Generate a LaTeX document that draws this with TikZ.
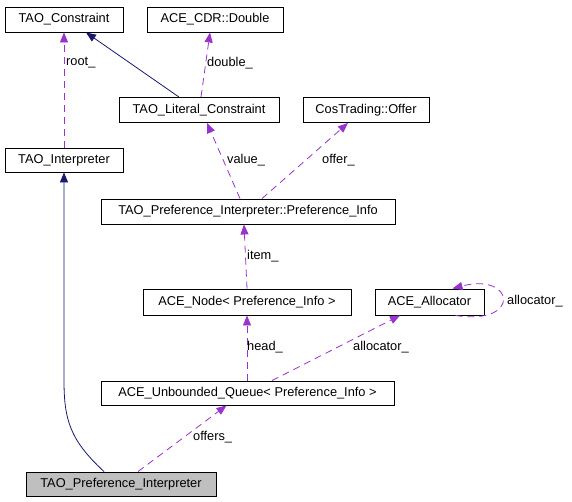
\documentclass[tikz,border=0pt]{standalone}
\usepackage{fontspec}
\setmainfont{Liberation Sans}
\usetikzlibrary{arrows.meta}
\definecolor{edgepurple}{HTML}{9A32CD}
\definecolor{edgenavy}{HTML}{191970}
\definecolor{boxgray}{HTML}{BFBFBF}
\begin{document}
\begin{tikzpicture}[x=1pt,y=-1pt,
  every node/.style={font=\fontsize{12.8}{14}\selectfont},
  cbox/.style={draw=black,line width=0.9pt,fill=white,inner sep=0pt,minimum height=25pt},
  lbl/.style={inner sep=1pt,anchor=west,text=black},
  uses/.style={draw=edgepurple,line width=0.8pt,dash pattern=on 7pt off 5pt,
    -{Triangle[length=10pt,width=8pt,fill=edgepurple,color=edgepurple]}},
  inherit/.style={draw=edgenavy,line width=0.8pt,
    -{Triangle[length=10pt,width=8pt,fill=edgenavy,color=edgenavy]}}]
\useasboundingbox (0,0) rectangle (572,501);
\fill[white] (0,0) rectangle (572,501);

% nodes
\node[cbox,minimum width=118pt] (tc) at (64,19.5) {TAO\_Constraint};
\node[cbox,minimum width=136pt] (cdr) at (215,19.5) {ACE\_CDR::Double};
\node[cbox,minimum width=160pt] (tlc) at (199,110) {TAO\_Literal\_Constraint};
\node[cbox,minimum width=126pt] (offer) at (366,110) {CosTrading::Offer};
\node[cbox,minimum width=118pt,minimum height=24pt] (ti) at (64,160) {TAO\_Interpreter};
\node[cbox,minimum width=294pt] (pinfo) at (248,211.5) {TAO\_Preference\_Interpreter::Preference\_Info};
\node[cbox,minimum width=208pt,minimum height=26pt] (anode) at (247,302) {ACE\_Node\textless{} Preference\_Info \textgreater};
\node[cbox,minimum width=109pt,minimum height=26pt] (alloc) at (429.5,302) {ACE\_Allocator};
\node[cbox,minimum width=293pt,minimum height=24pt] (queue) at (247.5,393) {ACE\_Unbounded\_Queue\textless{} Preference\_Info \textgreater};
\node[cbox,fill=boxgray,minimum width=190pt,minimum height=24pt] (tpi) at (121,484) {TAO\_Preference\_Interpreter};

% inheritance
\draw[inherit] ([xshift=-20pt]tlc.north) -- ([xshift=22pt]tc.south);
\draw[inherit] ([xshift=-17pt]tpi.north) .. controls (70,440) and (64,420) .. (64,380) -- (ti.south);

% usage
\draw[uses] (ti.north) -- (tc.south);
\node[lbl] (lroot) at (65,63) {root\_};
\draw[uses] ([xshift=2pt]tlc.north) -- ([xshift=-5pt]cdr.south);
\node[lbl] (ldouble) at (206,63) {double\_};
\draw[uses] ([xshift=-8pt]pinfo.north) -- ([xshift=8pt]tlc.south);
\node[lbl] (lvalue) at (226,160) {value\_};
\draw[uses] ([xshift=14pt]pinfo.north) -- ([xshift=-18pt]offer.south);
\node[lbl] (loffer) at (321,160) {offer\_};
\draw[uses] (anode.north) -- ([xshift=-4pt]pinfo.south);
\node[lbl] (litem) at (246,256) {item\_};
\draw[uses] ([xshift=-0.5pt]queue.north) -- (anode.south);
\node[lbl] (lhead) at (246,347) {head\_};
\draw[uses] ([xshift=24.5pt]queue.north) -- ([xshift=-29.5pt]alloc.south);
\node[lbl] (lalloc) at (352,347) {allocator\_};
\draw[uses] ([xshift=26pt]alloc.south) .. controls (522,326) and (515,272) .. ([xshift=23pt]alloc.north);
\node[lbl] (lalloc2) at (506,301) {allocator\_};
\draw[uses] ([xshift=17pt]tpi.north) -- ([xshift=-21pt]queue.south);
\node[lbl] (loffers) at (192,437) {offers\_};
\end{tikzpicture}
\end{document}
